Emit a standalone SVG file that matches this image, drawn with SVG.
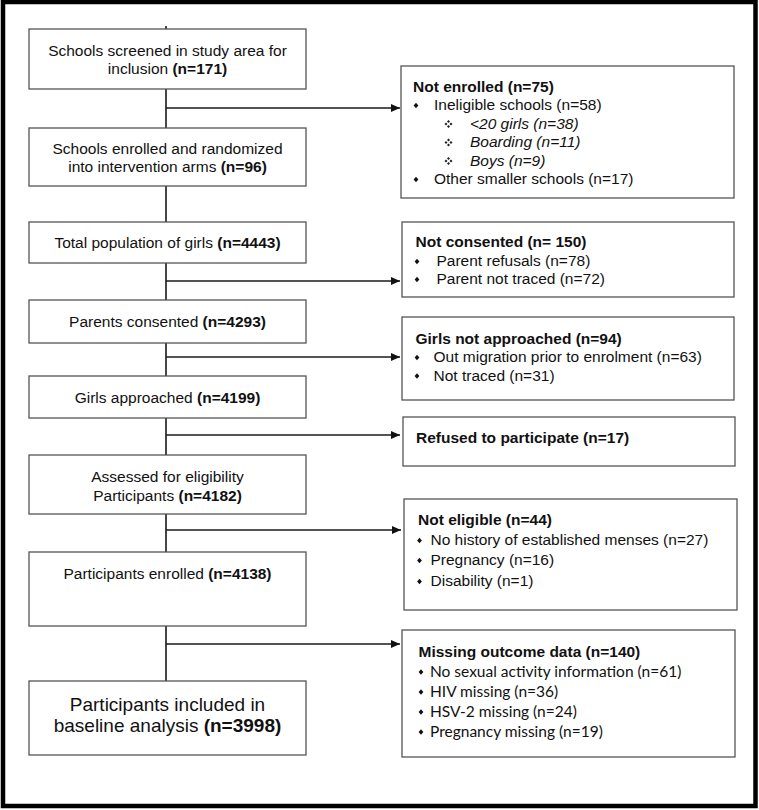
<svg xmlns="http://www.w3.org/2000/svg" width="759" height="810" viewBox="0 0 759 810">
<style>
.box{fill:#fff;stroke:#555;stroke-width:1.3}
.t{font-family:"Liberation Sans",Arial,sans-serif;font-size:15.5px;fill:#111}
.big{font-size:19px}
.c{text-anchor:middle}
.b{font-weight:bold}
.i{font-style:italic}
.cal{font-family:Lato,"Liberation Sans",sans-serif;font-size:15.5px}
.ln{stroke:#1a1a1a;stroke-width:1.6;fill:none}
</style>
<defs>
<marker id="ah" markerWidth="10" markerHeight="8" refX="9" refY="4" orient="auto" markerUnits="userSpaceOnUse"><path d="M0,0 L9,4 L0,8 z" fill="#111"/></marker>
<g id="bul"><path d="M0,-2.7 L2.4,0 L0,2.7 L-2.4,0 z" fill="#111"/></g>
<g id="qd" fill="#222"><path d="M0,-4 L1.5,-2.5 L0,-1 L-1.5,-2.5 z"/><path d="M0,4 L1.5,2.5 L0,1 L-1.5,2.5 z"/><path d="M-4,0 L-2.5,1.5 L-1,0 L-2.5,-1.5 z"/><path d="M4,0 L2.5,1.5 L1,0 L2.5,-1.5 z"/></g>
</defs>
<rect x="0" y="0" width="759" height="810" fill="#fff"/>
<rect id="frame" x="3" y="2" width="752.5" height="804" fill="none" stroke="#000" stroke-width="4.5"/>

<g id="connectors">
<path class="ln" d="M166,26 V29 M166,89 V128 M166,186 V222 M166,263 V300 M166,343 V376 M166,418 V455 M166,514 V552 M166,626 V681"/>
<line class="ln" x1="166" y1="108" x2="400" y2="108" marker-end="url(#ah)"/>
<line class="ln" x1="166" y1="281" x2="400" y2="281" marker-end="url(#ah)"/>
<line class="ln" x1="166" y1="357" x2="400" y2="357" marker-end="url(#ah)"/>
<line class="ln" x1="166" y1="435" x2="400" y2="435" marker-end="url(#ah)"/>
<line class="ln" x1="166" y1="530" x2="401" y2="530" marker-end="url(#ah)"/>
<line class="ln" x1="166" y1="644" x2="400" y2="644" marker-end="url(#ah)"/>
</g>

<g id="n1"><rect class="box" x="29" y="29" width="277" height="60"/>
<text class="t c" x="167.5" y="56">Schools screened in study area for</text>
<text class="t c" x="167.5" y="74">inclusion <tspan class="b">(n=171)</tspan></text></g>

<g id="n2"><rect class="box" x="29" y="128" width="277" height="58"/>
<text class="t c" x="167.5" y="154">Schools enrolled and randomized</text>
<text class="t c" x="167.5" y="172">into intervention arms <tspan class="b">(n=96)</tspan></text></g>

<g id="n3"><rect class="box" x="29" y="222" width="277" height="41"/>
<text class="t c" x="167.5" y="248">Total population of girls <tspan class="b">(n=4443)</tspan></text></g>

<g id="n4"><rect class="box" x="29" y="300" width="277" height="43"/>
<text class="t c" x="167.5" y="327">Parents consented <tspan class="b">(n=4293)</tspan></text></g>

<g id="n5"><rect class="box" x="29" y="376" width="277" height="42"/>
<text class="t c" x="167.5" y="403">Girls approached <tspan class="b">(n=4199)</tspan></text></g>

<g id="n6"><rect class="box" x="29" y="455" width="277" height="59"/>
<text class="t c" x="167.5" y="482">Assessed for eligibility</text>
<text class="t c" x="167.5" y="501">Participants <tspan class="b">(n=4182)</tspan></text></g>

<g id="n7"><rect class="box" x="29" y="552" width="277" height="74"/>
<text class="t c" x="167.5" y="579">Participants enrolled <tspan class="b">(n=4138)</tspan></text></g>

<g id="n8"><rect class="box" x="29" y="681" width="277" height="74"/>
<text class="t big c" x="167.5" y="711">Participants included in</text>
<text class="t big c" x="167.5" y="732">baseline analysis <tspan class="b">(n=3998)</tspan></text></g>

<g id="r1"><rect class="box" x="401" y="66" width="333" height="132"/>
<text class="t b" x="413" y="92">Not enrolled (n=75)</text>
<use href="#bul" x="416" y="105.5"/><text class="t" x="434" y="110">Ineligible schools (n=58)</text>
<use href="#qd" x="448.5" y="124"/><text class="t i" x="470" y="129">&lt;20 girls (n=38)</text>
<use href="#qd" x="448.5" y="142.5"/><text class="t i" x="470" y="147">Boarding (n=11)</text>
<use href="#qd" x="448.5" y="161"/><text class="t i" x="470" y="165.5">Boys (n=9)</text>
<use href="#bul" x="416" y="179.5"/><text class="t" x="434" y="184">Other smaller schools (n=17)</text></g>

<g id="r2"><rect class="box" x="402" y="222" width="332" height="75"/>
<text class="t b" x="415.5" y="247">Not consented (n= 150)</text>
<use href="#bul" x="417" y="261.5"/><text class="t" x="436.5" y="266">Parent refusals (n=78)</text>
<use href="#bul" x="417" y="279.5"/><text class="t" x="436.5" y="284">Parent not traced (n=72)</text></g>

<g id="r3"><rect class="box" x="402" y="317" width="332" height="83"/>
<text class="t b" x="415.5" y="343.5">Girls not approached (n=94)</text>
<use href="#bul" x="417" y="357.5"/><text class="t" x="433.5" y="362">Out migration prior to enrolment (n=63)</text>
<use href="#bul" x="417" y="376"/><text class="t" x="433.5" y="380.5">Not traced (n=31)</text></g>

<g id="r4"><rect class="box" x="403" y="417" width="332" height="49"/>
<text class="t b" x="416" y="443">Refused to participate (n=17)</text></g>

<g id="r5"><rect class="box" x="404" y="499" width="333" height="111"/>
<text class="t b" x="418" y="525">Not eligible (n=44)</text>
<use href="#bul" x="419.5" y="540.5"/><text class="t" x="430.5" y="545">No history of established menses (n=27)</text>
<use href="#bul" x="419.5" y="560.5"/><text class="t" x="430.5" y="565">Pregnancy (n=16)</text>
<use href="#bul" x="419.5" y="581.5"/><text class="t" x="430.5" y="586">Disability (n=1)</text></g>

<g id="r6"><rect class="box" x="402" y="630" width="333" height="127"/>
<text class="t b" x="418.5" y="656.5">Missing outcome data (n=140)</text>
<use href="#bul" x="421" y="672"/><text class="t cal" x="430" y="677">No sexual activity information (n=61)</text>
<use href="#bul" x="421" y="692"/><text class="t cal" x="430" y="697">HIV missing (n=36)</text>
<use href="#bul" x="421" y="712"/><text class="t cal" x="430" y="717">HSV-2 missing (n=24)</text>
<use href="#bul" x="421" y="732"/><text class="t cal" x="430" y="737">Pregnancy missing (n=19)</text></g>
</svg>
